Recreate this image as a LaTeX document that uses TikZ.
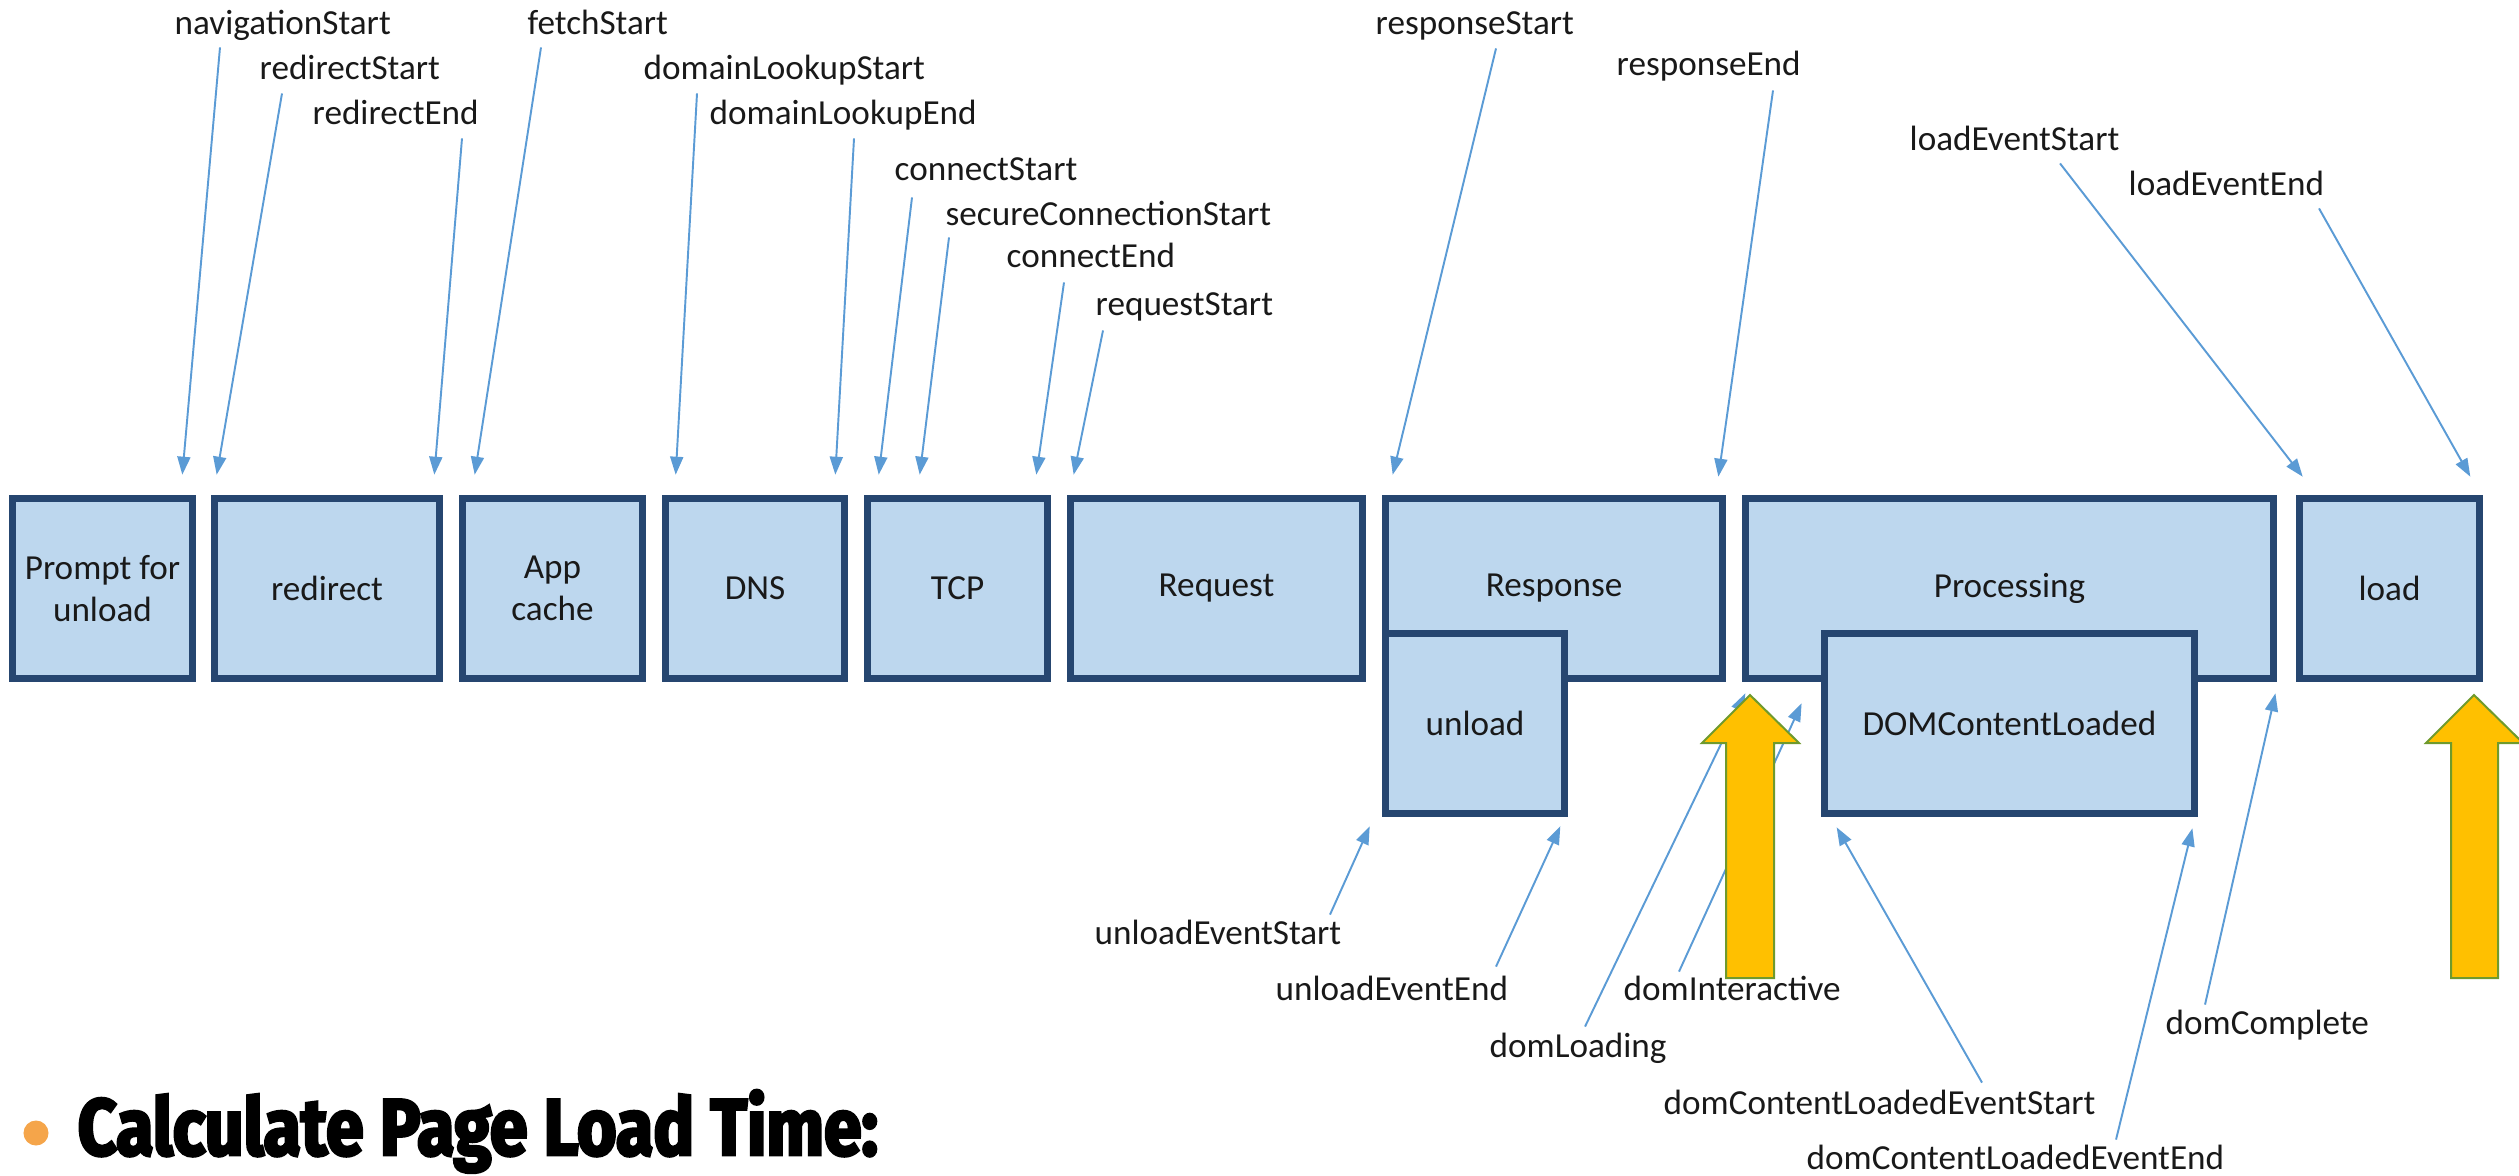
\documentclass[tikz,border=0pt]{standalone}
\usepackage{fontspec}
\setmainfont{Carlito}
\newfontfamily\titlefont{Fira Sans}[FakeStretch=0.85, BoldFeatures={FakeBold=3.5}]
\usetikzlibrary{arrows.meta,calc}

\definecolor{boxfill}{HTML}{BDD7EE}
\definecolor{boxline}{HTML}{264670}
\definecolor{timingblue}{HTML}{5B9BD5}
\definecolor{markfill}{HTML}{FFC000}
\definecolor{markline}{HTML}{6F9A2D}
\definecolor{bulletorange}{HTML}{F5A54A}

\newcommand\lblfont{\fontsize{10}{12}\selectfont}

\tikzset{
  stage/.style={draw=boxline, fill=boxfill, line width=0.075cm, inner sep=0pt,
    align=center, font=\lblfont, text=black!90, minimum height=1.80cm},
  tlabel/.style={inner sep=0pt, anchor=west, text height=0.7em, text depth=0.25em,
    font=\lblfont, text=black!90},
  timing/.style={draw=timingblue, line width=0.55pt,
    -{Triangle[length=0.18cm, width=0.13cm]}},
  bigmark/.style={fill=markfill, draw=markline, line width=0.02cm, line join=miter},
}

\begin{document}
\begin{tikzpicture}[x=0.01cm, y=-0.01cm]
\useasboundingbox (0,0) rectangle (2519,1175);

% processing stages
\node[stage, minimum width=1.80cm] (prompt)     at (102.5,588.5) {Prompt for\\unload};
\node[stage, minimum width=2.25cm] (redirect)   at (327,588.5)   {redirect};
\node[stage, minimum width=1.80cm] (appcache)   at (552.5,588.5) {App\\cache};
\node[stage, minimum width=1.79cm] (dns)        at (755,588.5)   {DNS};
\node[stage, minimum width=1.80cm] (tcp)        at (957.5,588.5) {TCP};
\node[stage, minimum width=2.92cm] (request)    at (1216.5,588.5){Request};
\node[stage, minimum width=3.37cm] (response)   at (1554,588.5)  {Response};
\node[stage, minimum width=5.28cm] (processing) at (2009.5,588.5){Processing};
\node[stage, minimum width=1.80cm] (load)       at (2389.5,588.5){load};
\node[stage, minimum width=1.79cm] (unload)     at (1475,723.5)  {unload};
\node[stage, minimum width=3.70cm] (dcl)        at (2009.5,723.5){DOMContentLoaded};

% timing labels above the stages
\node[tlabel] (ns)  at (174,27)   {navigationStart};
\node[tlabel] (rs)  at (259,72)   {redirectStart};
\node[tlabel] (re)  at (312,117)  {redirectEnd};
\node[tlabel] (fs)  at (527,27)   {fetchStart};
\node[tlabel] (dls) at (643,72)   {domainLookupStart};
\node[tlabel] (dle) at (709,117)  {domainLookupEnd};
\node[tlabel] (cs)  at (894,173)  {connectStart};
\node[tlabel] (scs) at (945,218)  {secureConnectionStart};
\node[tlabel] (ce)  at (1006,260) {connectEnd};
\node[tlabel] (rqs) at (1095,308) {requestStart};
\node[tlabel] (rss) at (1375,27)  {responseStart};
\node[tlabel] (rse) at (1616,68)  {responseEnd};
\node[tlabel] (les) at (1909,143) {loadEventStart};
\node[tlabel] (lee) at (2128,188) {loadEventEnd};

% timing labels below the stages
\node[tlabel] (ues)  at (1094,937)  {unloadEventStart};
\node[tlabel] (uee)  at (1275,993)  {unloadEventEnd};
\node[tlabel] (dlg)  at (1489,1050) {domLoading};
\node[tlabel] (di)   at (1623,993)  {domInteractive};
\node[tlabel] (dcls) at (1663,1107) {domContentLoadedEventStart};
\node[tlabel] (dcle) at (1806,1162) {domContentLoadedEventEnd};
\node[tlabel] (dc)   at (2165,1027) {domComplete};

% pointers from the upper labels down to the stage edges
\draw[timing] ($(ns.south west)+(46,3)$)   -- ($(prompt.north east)+(-14,-20)$);
\draw[timing] ($(rs.south west)+(23,4)$)   -- ($(redirect.north west)+(6,-20)$);
\draw[timing] ($(re.south west)+(150,4)$)  -- ($(redirect.north east)+(-9,-20)$);
\draw[timing] ($(fs.south west)+(14,3)$)   -- ($(appcache.north west)+(16,-20)$);
\draw[timing] ($(dls.south west)+(54,4)$)  -- ($(dns.north west)+(14,-20)$);
\draw[timing] ($(dle.south west)+(145,4)$) -- ($(dns.north east)+(-13,-20)$);
\draw[timing] ($(cs.south west)+(18,7)$)   -- ($(tcp.north west)+(15,-20)$);
\draw[timing] ($(scs.south west)+(4,2)$)   -- ($(tcp.north west)+(56,-20)$);
\draw[timing] ($(ce.south west)+(58,5)$)   -- ($(tcp.north east)+(-15,-20)$);
\draw[timing] ($(rqs.south west)+(8,5)$)   -- ($(request.north west)+(7,-20)$);
\draw[timing] ($(rss.south west)+(121,4)$) -- ($(response.north west)+(11,-20)$);
\draw[timing] ($(rse.south west)+(157,5)$) -- ($(response.north east)+(-8,-18)$);
\draw[timing] ($(les.south west)+(151,3)$) -- ($(load.north west)+(7,-18)$);
\draw[timing] ($(lee.south west)+(191,3)$) -- ($(load.north east)+(-13,-18)$);

% pointers from the lower labels up to the stage edges
\draw[timing] ($(ues.north west)+(236,-5)$)  -- ($(unload.south west)+(-12,9)$);
\draw[timing] ($(uee.north west)+(221,-9)$)  -- ($(unload.south east)+(-8,9)$);
\draw[timing] ($(dlg.north west)+(96,-6)$)   -- ($(response.south east)+(19,11)$);
\draw[timing] ($(di.north west)+(56,-4)$)    -- ($(processing.south west)+(60,21)$);
\draw[timing] ($(dcls.north west)+(319,-7)$) -- ($(dcl.south west)+(16,10)$);
\draw[timing] ($(dcle.north west)+(310,-5)$) -- ($(dcl.south east)+(-6,11)$);
\draw[timing] ($(dc.north west)+(40,-5)$)    -- ($(processing.south east)+(-2,11)$);

% highlighted milestones
\draw[bigmark] (1750,695) -- (1799,743) -- (1774,743) -- (1774,978)
  -- (1726,978) -- (1726,743) -- (1702,743) -- cycle;
\draw[bigmark] (2474,695) -- (2523,743) -- (2498,743) -- (2498,978)
  -- (2451,978) -- (2451,743) -- (2426,743) -- cycle;

% heading
\node[circle, fill=bulletorange, minimum size=0.25cm, inner sep=0pt] (bullet) at (36,1133) {};
\node[anchor=base west, inner sep=0pt, font=\titlefont\bfseries\fontsize{22.8}{26}\selectfont]
  (heading) at (77,1155) {Calculate Page Load Time:};
\end{tikzpicture}
\end{document}
